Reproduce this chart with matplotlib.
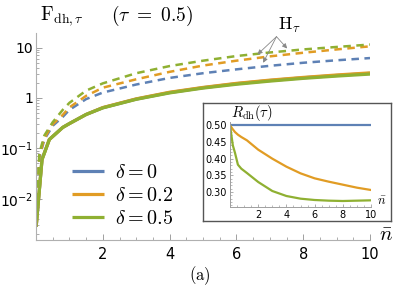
import numpy as np
import matplotlib
matplotlib.use("Agg")
import matplotlib.pyplot as plt

plt.rcParams['mathtext.fontset'] = 'cm'

# Mathematica default colours
BLUE = "#5E81B5"
ORANGE = "#E19C24"
GREEN = "#8FB032"

# F_dh (solid)
n_solid = [0.005, 0.18, 0.4, 0.8, 1, 1.5, 2, 3, 4, 5, 6, 7, 8, 9, 10]
F_d0 = [0.0028, 0.06, 0.15, 0.26, 0.31, 0.47, 0.64, 0.95, 1.28, 1.6, 1.92, 2.22, 2.52, 2.8, 3.08]
F_d02 = [0.0028, 0.06, 0.15, 0.26, 0.31, 0.47, 0.645, 0.96, 1.3, 1.62, 1.95, 2.26, 2.56, 2.86, 3.15]
F_d05 = [0.0028, 0.06, 0.15, 0.26, 0.31, 0.47, 0.635, 0.94, 1.26, 1.57, 1.87, 2.16, 2.45, 2.72, 2.98]

# H_tau (dashed)
n_dash = [0.005, 0.1, 0.25, 0.5, 0.8, 1, 1.5, 2, 3, 4, 5, 6, 7, 8, 9, 10]
H_d0 = [0.0028, 0.065, 0.15, 0.28, 0.42, 0.58, 0.95, 1.28, 1.85, 2.5, 3.1, 3.7, 4.35, 5.0, 5.6, 6.2]
H_d02 = [0.0028, 0.07, 0.16, 0.3, 0.46, 0.65, 1.1, 1.6, 2.35, 3.3, 4.4, 5.5, 6.7, 7.9, 9.2, 10.6]
H_d05 = [0.0028, 0.08, 0.18, 0.33, 0.58, 0.8, 1.4, 1.95, 3.1, 4.3, 5.5, 6.8, 8.0, 9.2, 10.3, 11.5]

# inset R_dh(tau)
n_r = [0, 0.1, 0.2, 0.35, 0.56, 0.8, 1.2, 2, 3, 4, 5, 6, 7, 8, 9, 10]
R_d0 = [0.5] * 16
R_d02 = [0.5, 0.494, 0.488, 0.48, 0.472, 0.465, 0.455, 0.427, 0.4, 0.376, 0.356, 0.341, 0.331, 0.322, 0.313, 0.306]
R_d05 = [0.5, 0.47, 0.44, 0.418, 0.382, 0.37, 0.357, 0.33, 0.303, 0.288, 0.28, 0.276, 0.274, 0.273, 0.274, 0.275]

labels = [r"$\delta = 0$", r"$\delta = 0.2$", r"$\delta = 0.5$"]
colors = [BLUE, ORANGE, GREEN]

W, H = 399, 294
fig = plt.figure(figsize=(W/100, H/100), dpi=100)

def box(x0, y0, x1, y1):
    # pixel box (top-left origin) -> figure fraction
    return [x0/W, 1-y1/H, (x1-x0)/W, (y1-y0)/H]

ax = fig.add_axes(box(36, 33, 370, 240))
lines = []
for F, c, lab in zip([F_d0, F_d02, F_d05], colors, labels):
    l, = ax.plot(n_solid, F, color=c, lw=2.3, label=lab, solid_capstyle='butt')
    lines.append(l)
for Hv, c in zip([H_d0, H_d02, H_d05], colors):
    ax.plot(n_dash, Hv, color=c, lw=1.8, dashes=(3, 2.2))

ax.set_yscale('log')
ax.set_xlim(0, 10)
ax.set_ylim(10**-2.82, 10**1.29)
for s in ['top', 'right']:
    ax.spines[s].set_visible(False)
for s in ['left', 'bottom']:
    ax.spines[s].set_color('#b0b0b0')
    ax.spines[s].set_linewidth(0.8)
ax.set_xticks([2, 4, 6, 8, 10])
ax.set_xticks(np.arange(0.5, 10.01, 0.5), minor=True)
ax.set_yticks([0.01, 0.1, 1, 10])
ax.set_yticklabels([r"$10^{-2}$", r"$10^{-1}$", "1", "10"])
for t in ax.get_yticklabels():
    t.set_math_fontfamily('dejavusans')
ax.tick_params(which='both', direction='in', color='#a0a0a0', labelsize=10.5, pad=3)
ax.tick_params(axis='y', labelsize=10, pad=2)
ax.tick_params(which='major', length=4, width=0.7)
ax.tick_params(which='minor', length=2, width=0.6)
ax.tick_params(axis='x', pad=5)

leg = ax.legend(handles=lines, loc='upper left', bbox_to_anchor=box(62, 151, 64, 153)[:2],
                bbox_transform=fig.transFigure, frameon=False, fontsize=14.5,
                handlelength=1.6, handletextpad=0.55, labelspacing=0.2, borderpad=0)

# H_tau annotation
ax.text(7.6, 28, r"$\mathrm{H}_\tau$", fontsize=13, ha='center', va='center')
for tgt in [(6.63, 7.3), (6.8, 5.0), (7.52, 9.6)]:
    ax.annotate("", xy=tgt, xytext=(7.2, 16.5),
                arrowprops=dict(arrowstyle='-|>', color='#888888', lw=0.6,
                                mutation_scale=7, shrinkA=0, shrinkB=0))

fig.text(40/W, 1-16/H, r"$\mathrm{F}_{\mathrm{dh},\tau}$", fontsize=14,
         ha='left', va='center')
fig.text(111/W, 1-16/H, r"$(\tau\ =\ 0.5)$", fontsize=14,
         ha='left', va='center')
fig.text(386/W, 1-235/H, r"$\bar{n}$", fontsize=15, ha='center', va='center')
fig.text(200/W, 1-276/H, r"$\mathrm{(a)}$", fontsize=12, ha='center', va='center')

# inset
frame = fig.add_axes(box(203, 103, 391, 221))
frame.set_xticks([])
frame.set_yticks([])
for s in frame.spines.values():
    s.set_color('#555555')
    s.set_linewidth(1.0)
frame.patch.set_facecolor('white')

ins = fig.add_axes(box(230, 122, 371, 207))
ins.patch.set_alpha(0)
for R, c in zip([R_d0, R_d02, R_d05], colors):
    ins.plot(n_r, R, color=c, lw=1.6)
ins.set_xlim(0, 10)
ins.set_ylim(0.255, 0.51)
for s in ['top', 'right']:
    ins.spines[s].set_visible(False)
for s in ['left', 'bottom']:
    ins.spines[s].set_color('#a0a0a0')
    ins.spines[s].set_linewidth(0.7)
ins.set_xticks([2, 4, 6, 8, 10])
ins.set_xticks(np.arange(0.5, 10.01, 0.5), minor=True)
ins.set_yticks([0.30, 0.35, 0.40, 0.45, 0.50])
ins.set_yticklabels(["0.30", "0.35", "0.40", "0.45", "0.50"])
ins.set_yticks(np.arange(0.26, 0.51, 0.01), minor=True)
ins.tick_params(which='both', direction='in', color='#a0a0a0', labelsize=7, pad=2)
ins.tick_params(which='major', length=2.5, width=0.6)
ins.tick_params(which='minor', length=1.2, width=0.5)
fig.text(231/W, 1-113/H, r"$R_{\mathrm{dh}}(\tau)$", fontsize=10.5, ha='left', va='center')
fig.text(382/W, 1-201/H, r"$\bar{n}$", fontsize=9, ha='center', va='center')

fig.savefig("out.png", dpi=100)
